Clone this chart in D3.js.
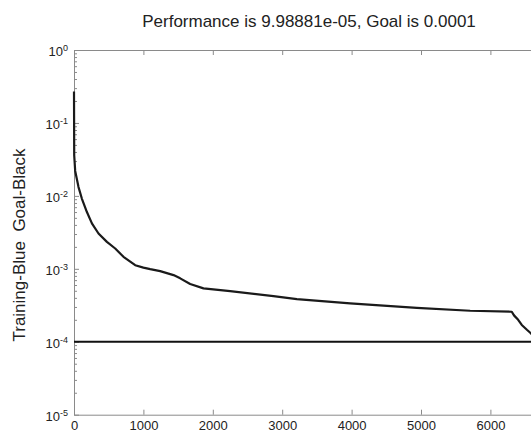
<!DOCTYPE html>
<meta charset="utf-8" />
<style>
  body { margin: 0; background: #fff; }
  svg { display: block; font-family: "Liberation Sans", Arial, sans-serif; }
  .axis path, .axis line { stroke: #8a8a8a; }
  .axis text { fill: #222; font-size: 13px; }
</style>
<body>
  <div id="chart"></div>
  <script src="https://cdn.jsdelivr.net/npm/d3@7"></script>
  <script>
    const epochs = [0, 3, 17, 65, 113, 186, 258, 353, 474, 594, 713, 882, 1000, 1098, 1242,
      1434, 1530, 1674, 1866, 2250, 2874, 3211, 3979, 4940, 5708, 6308, 6340, 6400, 6452,
      6530, 6586, 6680];
    const performance = [0.27, 0.036, 0.022, 0.0132, 0.0092, 0.006, 0.0042, 0.00305, 0.00234,
      0.0019, 0.00146, 0.00112, 0.00104, 0.00099, 0.00093, 0.00082, 0.00074, 0.00062,
      0.00054, 0.000494, 0.000422, 0.000385, 0.000336, 0.000292, 0.000266, 0.000258,
      0.00023, 0.0002, 0.00017, 0.000145, 0.00013, 0.0000999];
    const goal = 0.0001;
    const xTicks = [0, 1000, 2000, 3000, 4000, 5000, 6000];
    const yTicks = [1, 0.1, 0.01, 0.001, 0.0001, 0.00001];
    const title = "Performance is 9.98881e-05, Goal is 0.0001";
    const yLabel = "Training-Blue\u00a0\u00a0Goal-Black";

    const width = 531, height = 432;
    const plotLeft = 74, plotTop = 50, plotBottom = 414.7;

    const svg = d3.select("#chart").append("svg")
      .attr("width", width).attr("height", height);

    const x = d3.scaleLinear().domain([0, 7000]).range([plotLeft, plotLeft + 7 * 69.4]);
    const y = d3.scaleLog().domain([1e-5, 1]).range([plotBottom, plotTop]);

    // minor log ticks
    const minor = [];
    for (let e = -5; e < 0; e++) for (let m = 2; m <= 9; m++) minor.push(m * Math.pow(10, e));

    svg.append("g").attr("class", "axis")
      .attr("transform", `translate(${plotLeft},0)`)
      .call(d3.axisLeft(y).tickValues(minor).tickSize(-3).tickSizeOuter(0).tickFormat(""));

    const yAxis = svg.append("g").attr("class", "axis")
      .attr("transform", `translate(${plotLeft},0)`)
      .call(d3.axisLeft(y).tickValues(yTicks).tickSize(-5).tickSizeOuter(0).tickPadding(9)
        .tickFormat(""));
    yAxis.selectAll(".tick text").each(function (d) {
      const t = d3.select(this).attr("dy", "0.45em");
      t.append("tspan").text("10");
      t.append("tspan").attr("dy", "-0.6em").attr("font-size", "9px")
        .text(Math.round(Math.log10(d)));
    }).attr("x", -6);

    svg.append("g").attr("class", "axis")
      .attr("transform", `translate(0,${plotBottom})`)
      .call(d3.axisBottom(x).tickValues(xTicks).tickSize(-5).tickSizeOuter(0).tickPadding(6)
        .tickFormat(d3.format("d")));

    svg.append("g").attr("class", "axis")
      .attr("transform", `translate(0,${plotTop})`)
      .call(d3.axisTop(x).tickValues(xTicks).tickSize(-5).tickSizeOuter(0).tickFormat(""));

    svg.selectAll(".domain").attr("stroke", "#8a8a8a");

    // goal line
    svg.append("line")
      .attr("x1", x(0)).attr("x2", x(7000))
      .attr("y1", y(goal)).attr("y2", y(goal))
      .attr("stroke", "#111").attr("stroke-width", 2.2);

    // training curve
    const line = d3.line().x((d, i) => x(epochs[i])).y(d => y(d));
    svg.append("path")
      .datum(performance)
      .attr("fill", "none")
      .attr("stroke", "#1a1a1a")
      .attr("stroke-width", 2.2)
      .attr("stroke-linejoin", "round")
      .attr("d", line);

    svg.append("text")
      .attr("x", 309).attr("y", 26.5)
      .attr("text-anchor", "middle")
      .attr("font-size", "17px").attr("fill", "#222")
      .text(title);

    svg.append("text")
      .attr("transform", "translate(25,245) rotate(-90)")
      .attr("text-anchor", "middle")
      .attr("font-size", "17px").attr("fill", "#222")
      .text(yLabel);
  </script>
</body>
